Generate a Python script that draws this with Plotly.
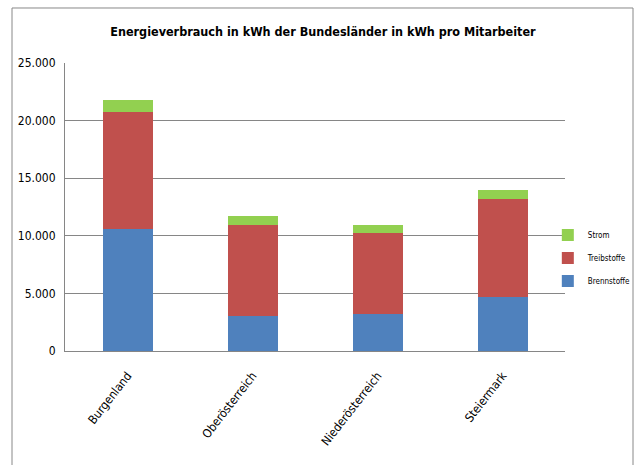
import plotly.graph_objects as go

categories = ["Burgenland", "Oberösterreich", "Niederösterreich", "Steiermark"]
brennstoffe = [10600, 3070, 3240, 4690]
treibstoffe = [10150, 7870, 7000, 8500]
strom = [1050, 780, 700, 790]

FONT = "DejaVu Sans Condensed, Liberation Sans Narrow, sans-serif"

fig = go.Figure()
fig.add_trace(go.Bar(name="Brennstoffe", x=categories, y=brennstoffe, legendgroup="b", legendrank=3,
                     marker=dict(color="#4F81BD", line=dict(width=0))))
fig.add_trace(go.Bar(name="Treibstoffe", x=categories, y=treibstoffe, legendgroup="t", legendrank=2,
                     marker=dict(color="#C0504D", line=dict(width=0))))
fig.add_trace(go.Bar(name="Strom", x=categories, y=strom, legendgroup="s", legendrank=1,
                     marker=dict(color="#92D050", line=dict(width=0))))

fig.update_layout(
    width=637, height=465,
    barmode="stack", bargap=0.6,
    separators=",.",
    paper_bgcolor="white", plot_bgcolor="white",
    margin=dict(l=65, r=72, t=63, b=114, autoexpand=False),
    font=dict(family=FONT, color="#000000"),
    title=dict(text="<b>Energieverbrauch in kWh der Bundesländer in kWh pro Mitarbeiter</b>",
               x=0.507, xanchor="center", y=0.931, yanchor="middle",
               font=dict(family=FONT, size=12.5, color="#000000")),
    legend=dict(traceorder="grouped", tracegroupgap=4, xref="container", x=0.86, xanchor="left",
                yref="container", y=0.445, yanchor="middle",
                font=dict(family=FONT, size=8), itemwidth=30, bgcolor="rgba(0,0,0,0)"),
    yaxis=dict(range=[0, 25000], dtick=5000, tickformat=",d", showgrid=True,
               gridcolor="#868686", gridwidth=1, showline=True, linecolor="#868686",
               zeroline=False, ticks="", tickfont=dict(size=12, family=FONT), ticklabelstandoff=6),
    xaxis=dict(showline=True, linecolor="#868686", tickangle=-52, ticks="",
               tickfont=dict(size=12, family=FONT), ticklabelstandoff=12),
    shapes=[dict(type="rect", xref="paper", yref="paper", x0=-0.106, x1=1.136, y0=-0.45, y1=1.191,
                 line=dict(color="#888888", width=1), fillcolor="rgba(0,0,0,0)", layer="below")],
)

fig.write_html("out.html")
